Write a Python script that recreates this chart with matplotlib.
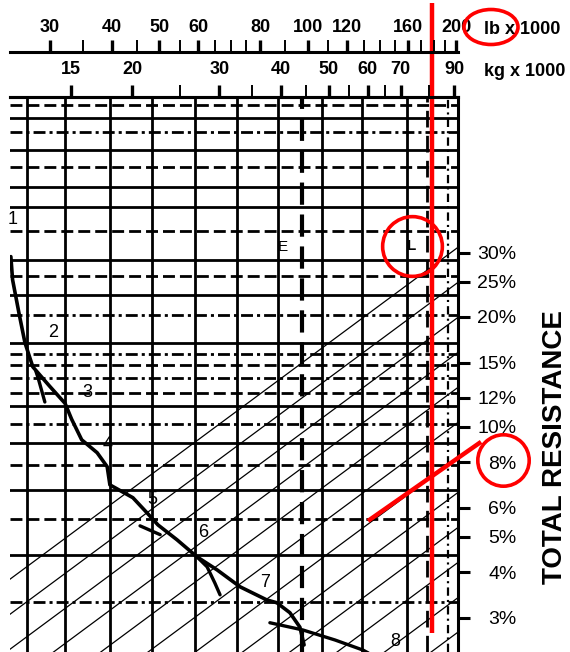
import matplotlib.pyplot as plt
from matplotlib.patches import Ellipse
from matplotlib.ticker import NullLocator

plt.rcParams['font.family'] = ['Liberation Sans', 'DejaVu Sans']
plt.rcParams['lines.scale_dashes'] = False

LB_PER_KG = 2.20462

# chart extents: weight (lb x 1000) across, total resistance (%) down
lb_range = (24.9, 201.7)
pct_range = (2.42, 80.0)

# weight scales along the top
lb_major = [30, 40, 50, 60, 80, 100, 120, 160, 200]
lb_minor = [35, 45, 55, 65, 70, 75, 90, 110, 130, 140, 150, 170, 180, 190]
kg_major = [15, 20, 30, 40, 50, 60, 70, 90]
kg_minor = [25, 35, 45, 55, 65, 80]

# total resistance scale on the right
pct_ticks = [3, 4, 5, 6, 8, 10, 12, 15, 20, 25, 30]

# vertical rules (lb x 1000)
vert_solid = [26.9, 32.2, 39.7, 48.3, 59.0, 71.9, 87.0, 106.9, 128.8, 159.0]
vert_e = 97.3
vert_dashed = 174.5
vert_dashdot = 192.5

# horizontal rules (%)
horiz_solid = [70.3, 57.4, 45.5, 40.1, 28.7, 23.0, 17.0, 11.4, 9.05, 6.73, 4.46]
horiz_dashed = [76.1, 51.6, 34.3, 25.9, 14.8, 12.4, 7.87, 5.60]
horiz_dashdot = [64.0, 20.2, 15.8, 13.6, 10.2, 3.32]

# sloping guide lines, % resistance per 1000 lb
slope_ratios = [0.1538, 0.1233, 0.0989, 0.0793, 0.0636, 0.0510, 0.0409,
                0.0328, 0.0263, 0.0211, 0.0169, 0.0136, 0.0109]

# heavy curve 1-7
curve_lb = [25.0, 25.2, 26.0, 26.7, 27.7, 30.0, 32.2, 33.2, 34.8, 37.4, 39.2,
            39.7, 44.2, 47.2, 49.7, 54.3, 59.6, 65.5, 72.9, 82.6, 86.6, 92.0,
            96.4, 98.3]
curve_pct = [29.25, 25.3, 20.3, 17.0, 14.6, 12.9, 11.6, 10.5, 9.22, 8.50, 7.78,
             6.94, 6.40, 5.82, 5.39, 4.91, 4.41, 4.06, 3.65, 3.36, 3.30, 3.10,
             2.83, 2.53]
# curve 8 and short branches
line8_lb = [83.8, 97.8, 113.6, 129.4, 136.9]
line8_pct = [2.91, 2.78, 2.61, 2.45, 2.35]
branch3_lb = [28.1, 28.4, 29.3]
branch3_pct = [14.2, 13.6, 11.7]
branch5_lb = [45.7, 50.2]
branch5_pct = [5.36, 5.07]
branch6_lb = [59.6, 62.5, 64.8, 66.4]
branch6_pct = [4.41, 4.14, 3.74, 3.47]

curve_labels = ['1', '2', '3', '4', '5', '6', '7', '8']
label_lb = [25.2, 30.4, 35.8, 39.2, 48.3, 61.3, 81.9, 150.3]
label_pct = [36.9, 18.1, 12.4, 8.94, 6.32, 5.13, 3.74, 2.58]

# red markup
red_lb = 178.6
red_span = (2.73, 145.0)
red_slash_lb = [132.5, 224.6]
red_slash_pct = [5.53, 9.1]
mark_l = (162.7, 31.2)
mark_pct = 8.13

W, H = 570, 652
fig = plt.figure(figsize=(W / 100, H / 100), dpi=100)
ax = fig.add_axes([10 / W, 0, 448 / W, 555 / H])
ax_lb = fig.add_axes([10 / W, 1 - 52 / H, 448 / W, 1e-4])
ax_kg = fig.add_axes([10 / W, 1 - 97 / H, 448 / W, 1e-4])

ax.set_xscale('log')
ax.set_yscale('log')
ax.set_xlim(*lb_range)
ax.set_ylim(*pct_range)
ax.xaxis.set_major_locator(NullLocator())
ax.xaxis.set_minor_locator(NullLocator())
ax.yaxis.set_minor_locator(NullLocator())
for s in ['left', 'bottom']:
    ax.spines[s].set_visible(False)
for s in ['top', 'right']:
    ax.spines[s].set_linewidth(2.2)

ax.yaxis.tick_right()
ax.set_yticks(pct_ticks)
ax.set_yticklabels([f'{p}%' for p in pct_ticks], ha='right')
ax.tick_params(axis='y', which='major', direction='out', length=8.6, width=2.2,
               labelsize=14, pad=33.5)

# grid
for v in vert_solid:
    ax.axvline(v, color='black', lw=2.0, zorder=1)
ax.axvline(vert_e, color='black', lw=3.0, ls=(0, (16, 7)), zorder=1)
ax.axvline(vert_dashed, color='black', lw=2.0, ls=(0, (12, 6)), zorder=1)
ax.axvline(vert_dashdot, color='black', lw=1.6, ls=(0, (6, 3, 1.5, 3)), zorder=1)
for h in horiz_solid:
    ax.axhline(h, color='black', lw=2.0, zorder=1)
for h in horiz_dashed:
    ax.axhline(h, color='black', lw=2.0, ls=(0, (8.6, 3.6)), zorder=1)
for h in horiz_dashdot:
    ax.axhline(h, color='black', lw=2.0, ls=(0, (8.6, 2.9, 2.2, 2.9)), zorder=1)

for r in slope_ratios:
    ax.plot(lb_range, [r * lb_range[0], r * lb_range[1]], color='black',
            lw=0.9, zorder=1)

# curves
ax.plot(curve_lb, curve_pct, color='black', lw=2.6, zorder=3,
        solid_capstyle='round', solid_joinstyle='round')
for xs, ys in [(line8_lb, line8_pct), (branch3_lb, branch3_pct),
               (branch5_lb, branch5_pct), (branch6_lb, branch6_pct)]:
    ax.plot(xs, ys, color='black', lw=2.4, zorder=3, solid_capstyle='round')
for t, x, y in zip(curve_labels, label_lb, label_pct):
    ax.text(x, y, t, fontsize=13, ha='center', va='center', zorder=4)
ax.text(89.1, 31.0, 'E', fontsize=11, ha='center', va='center', zorder=4)
ax.text(mark_l[0], mark_l[1], 'L', fontsize=11, fontweight='bold',
        ha='center', va='center', zorder=4)

# top weight scales
for a, lim, major, minor, unit in [
        (ax_lb, lb_range, lb_major, lb_minor, 'lb'),
        (ax_kg, (lb_range[0] / LB_PER_KG, lb_range[1] / LB_PER_KG),
         kg_major, kg_minor, 'kg')]:
    a.set_xscale('log')
    a.set_xlim(*lim)
    a.set_yticks([])
    for s in ['left', 'bottom', 'right']:
        a.spines[s].set_visible(False)
    a.spines['top'].set_linewidth(2.2)
    a.xaxis.tick_top()
    a.set_xticks(major)
    a.set_xticklabels([str(m) for m in major])
    a.set_xticks(minor, minor=True)
    a.set_xticklabels([], minor=True)
    a.tick_params(axis='x', which='major', direction='out', length=8.6,
                  width=2.4, labelsize=13, pad=3 if unit == 'lb' else 5)
    a.tick_params(axis='x', which='minor', direction='out', length=8.6,
                  width=1.4)
    for lbl in a.get_xticklabels():
        lbl.set_fontweight('bold')
    a.patch.set_visible(False)

fig.text(484 / W, 1 - 30 / H, 'lb x 1000', fontsize=13, fontweight='bold',
         ha='left', va='center')
fig.text(484 / W, 1 - 72 / H, 'kg x 1000', fontsize=13, fontweight='bold',
         ha='left', va='center')
fig.text(555 / W, 1 - 447 / H, 'TOTAL RESISTANCE', fontsize=20,
         fontweight='bold', rotation=90, ha='center', va='center')

# red markup
ax.plot([red_lb, red_lb], red_span, color='red', lw=3.2, zorder=5,
        clip_on=False, solid_capstyle='butt')
ax.plot(red_slash_lb, red_slash_pct, color='red', lw=3.2, zorder=5,
        clip_on=False, solid_capstyle='butt')
ax.plot(*mark_l, marker='o', ms=43, mfc='none', mec='red', mew=2.6, zorder=5)
ax.plot([1.1], [mark_pct], marker='o', ms=37, mfc='none', mec='red', mew=2.6,
        zorder=5, clip_on=False, transform=ax.get_yaxis_transform())
fig.patches.append(Ellipse((491 / W, 1 - 27 / H), 54 / W, 35 / H,
                           transform=fig.transFigure, fill=False,
                           ec='red', lw=2.6))

fig.savefig('out.png', dpi=100, facecolor='white')
